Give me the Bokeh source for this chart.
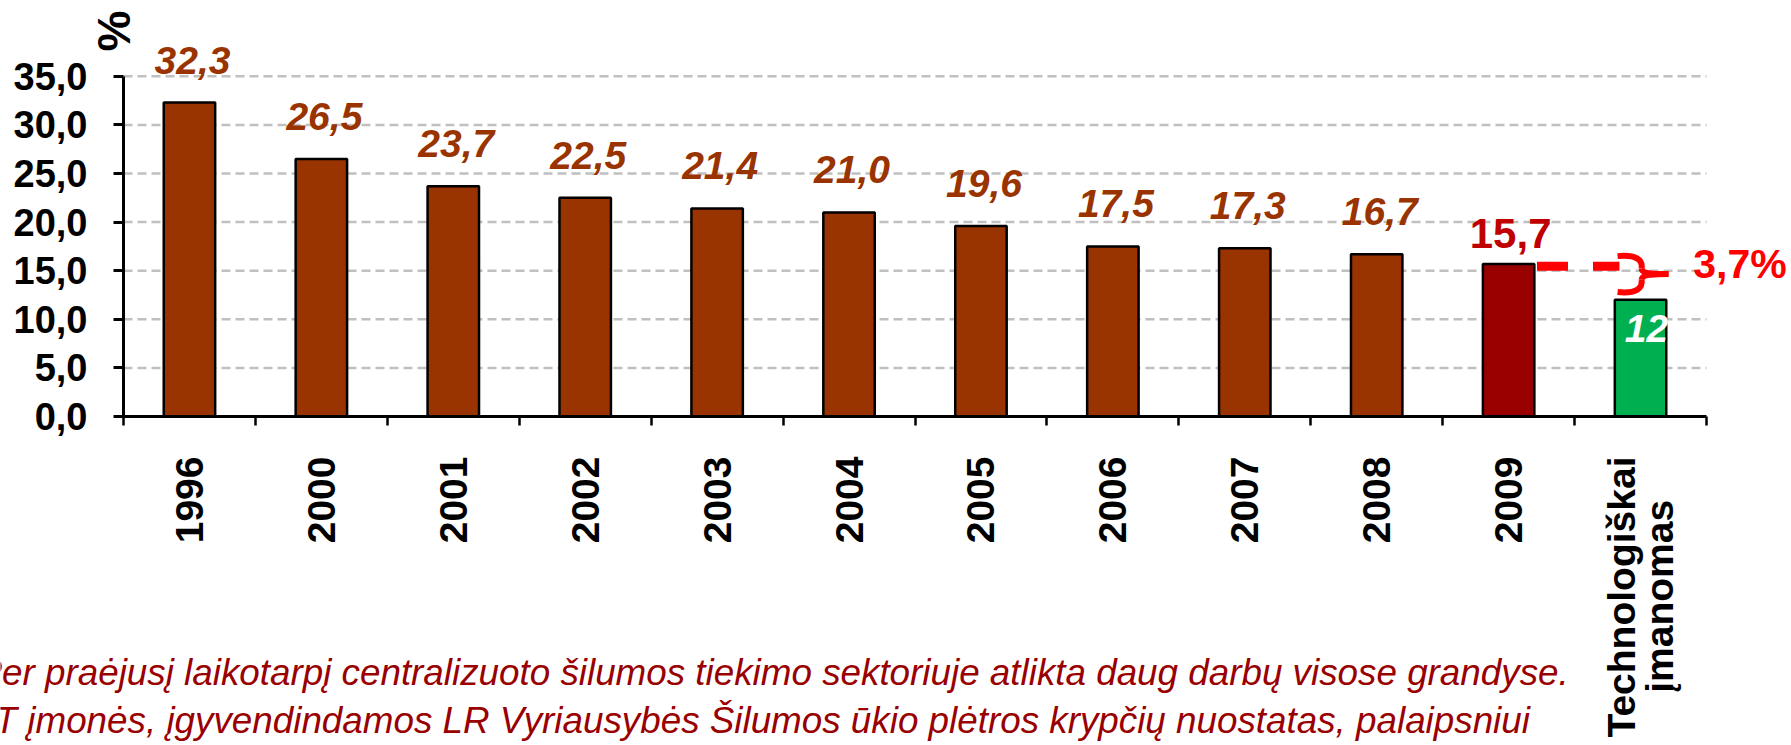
import math
import numpy as np
from bokeh.plotting import figure
from bokeh.models import ColumnDataSource, Range1d, FixedTicker, LabelSet, Label
from bokeh.core.properties import value
from bokeh.embed import file_html
from bokeh.resources import INLINE

# ---------------- data ----------------
categories = ["1996", "2000", "2001", "2002", "2003", "2004", "2005",
              "2006", "2007", "2008", "2009", "Technologiškai\nįmanomas\u00a0\u00a0\u00a0\u00a0"]
values = [32.3, 26.5, 23.7, 22.5, 21.4, 21.0, 19.6, 17.5, 17.3, 16.7, 15.7, 12.0]
value_labels = ["32,3", "26,5", "23,7", "22,5", "21,4", "21,0", "19,6",
                "17,5", "17,3", "16,7", "15,7", "12"]
y_ticks = [0, 5, 10, 15, 20, 25, 30, 35]
y_tick_labels = ["0,0", "5,0", "10,0", "15,0", "20,0", "25,0", "30,0", "35,0"]
y_unit = "%"
note_lines = [
    "Per praėjusį laikotarpį centralizuoto šilumos tiekimo sektoriuje atlikta daug darbų visose grandyse.",
    "CŠT įmonės, įgyvendindamos LR Vyriausybės Šilumos ūkio plėtros krypčių nuostatas, palaipsniui",
]

# ---------------- styles / layout ----------------
BROWN = "#993300"
bar_colors = [BROWN] * 10 + ["#990000", "#00B050"]
SANS = "Liberation Sans"

W, H = 1791, 745
n = len(categories)
centers = np.arange(n) + 0.5
bounds = np.arange(n + 1)
BAR_W = 0.39

# plot area in pixels (left, right, top=35, bottom=0)
PL, PR, PT, PB = 123, 1706, 75.8, 416
ymax = 35
pxu = (PR - PL) / n
pyu = (PB - PT) / ymax
x_range = Range1d(-PL / pxu, n + (W - PR) / pxu)
y_range = Range1d(-(H - PB) / pyu, PB / pyu)

p = figure(width=W, height=H, x_range=x_range, y_range=y_range,
           output_backend="svg", toolbar_location=None, min_border=0)
p.outline_line_color = None
p.grid.visible = False

# grid lines (dashed, behind bars)
gy = [t for t in y_ticks if t > 0]
p.segment(x0=[0] * len(gy), y0=gy, x1=[n] * len(gy), y1=gy,
          line_color="#C0C0C0", line_width=2.5, line_dash="9 5")

# y axis
yax = p.yaxis[0]
yax.fixed_location = 0
yax.bounds = (0, ymax)
yax.ticker = FixedTicker(ticks=y_ticks)
yax.major_label_overrides = {float(t): s for t, s in zip(y_ticks, y_tick_labels)}
yax.major_tick_out = 10
yax.major_tick_in = 0
yax.minor_tick_out = 0
yax.minor_tick_in = 0
yax.axis_line_width = 3
yax.major_tick_line_width = 3
yax.major_label_standoff = 26
yax.major_label_text_font = SANS
yax.major_label_text_font_style = "bold"
yax.major_label_text_font_size = "38px"
yax.major_label_text_color = "black"

# x axis
xax = p.xaxis[0]
xax.fixed_location = 0
xax.bounds = (0, n)
xax.ticker = FixedTicker(ticks=list(centers), minor_ticks=list(bounds))
xax.major_label_overrides = {float(c): s for c, s in zip(centers, categories)}
xax.major_tick_out = 0
xax.major_tick_in = 0
xax.minor_tick_out = 9
xax.minor_tick_in = 0
xax.minor_tick_line_width = 2.5
xax.minor_tick_line_color = "black"
xax.axis_line_width = 3
xax.major_label_orientation = math.pi / 2
xax.major_label_standoff = 31
xax.major_label_text_font = SANS
xax.major_label_text_font_style = "bold"
xax.major_label_text_font_size = "39px"
xax.major_label_text_line_height = 0.9
xax.major_label_text_color = "black"

# bars
src = ColumnDataSource(dict(x=centers, top=values, color=bar_colors))
p.vbar(x="x", top="top", width=BAR_W, bottom=0, fill_color="color",
       line_color="black", line_width=2.5, source=src)

# value labels
hist = ColumnDataSource(dict(x=centers[:10], y=values[:10], lab=value_labels[:10]))
p.add_layout(LabelSet(x="x", y="y", text="lab", source=hist, x_offset=3, y_offset=29,
                      text_align="center", text_baseline="alphabetic",
                      text_font=value(SANS), text_font_style="bold italic",
                      text_font_size="39px", text_color=BROWN))
cur = ColumnDataSource(dict(x=centers[10:11], y=values[10:11], lab=value_labels[10:11]))
p.add_layout(LabelSet(x="x", y="y", text="lab", source=cur, x_offset=2, y_offset=16,
                      text_align="center", text_baseline="alphabetic",
                      text_font=value(SANS), text_font_style="bold",
                      text_font_size="42px", text_color="#C00000"))
tech = ColumnDataSource(dict(x=centers[11:], y=values[11:], lab=value_labels[11:]))
p.add_layout(LabelSet(x="x", y="y", text="lab", source=tech, x_offset=6, y_offset=-42,
                      text_align="center", text_baseline="alphabetic",
                      text_font=value(SANS), text_font_style="bold italic",
                      text_font_size="39px", text_color="white"))

# reduction annotation: dashed line + brace + percentage
v_now, v_tech = values[-2], values[-1]
xs0 = centers[-2] + BAR_W / 2 + 0.02
xs1 = centers[-1] - 0.16
p.segment(x0=[xs0], y0=[v_now - 0.25], x1=[xs1], y1=[v_now - 0.25],
          line_color="#FF0000", line_width=9, line_dash="31 25")

top = v_now + 0.8
bot = v_tech + 0.8
mid = (top + bot) / 2
L = centers[-1] - 0.174
J = centers[-1] + 0.008
T = centers[-1] + 0.212
p.bezier(x0=[L, J, J, J], y0=[top, mid + 0.58, mid - 0.58, mid - 0.58],
         x1=[J, T, T, L], y1=[mid + 0.58, mid, mid, bot],
         cx0=[L + 0.14, J, J, J + 0.01], cy0=[top + 0.2, mid + 0.15, mid - 0.15, bot + 0.4],
         cx1=[J + 0.01, J + 0.05, J + 0.05, L + 0.14], cy1=[top - 0.4, mid, mid, bot - 0.2],
         line_color="#FF0000", line_width=6)

pct = f"{v_now - v_tech:.1f}".replace(".", ",") + "%"
p.add_layout(Label(x=centers[-1] + 0.40, y=v_now, text=pct,
                   text_align="left", text_baseline="middle",
                   text_font=SANS, text_font_style="bold",
                   text_font_size="41px", text_color="#FF0000"))

# unit label (rotated, partially cut at top)
p.add_layout(Label(x=113, y=H - 51, x_units="screen", y_units="screen", text=y_unit,
                   angle=math.pi / 2, text_align="left", text_baseline="alphabetic",
                   text_font=SANS, text_font_style="bold",
                   text_font_size="46px", text_color="black"))

# note text at the bottom (cut on the left, as in the source)
p.add_layout(Label(x=-23, y=73, x_units="screen", y_units="screen", text=note_lines[0],
                   text_align="left", text_baseline="alphabetic",
                   text_font=SANS, text_font_style="italic",
                   text_font_size="36.8px", text_color="#990000"))
p.add_layout(Label(x=-57, y=25, x_units="screen", y_units="screen", text=note_lines[1],
                   text_align="left", text_baseline="alphabetic",
                   text_font=SANS, text_font_style="italic",
                   text_font_size="36.8px", text_color="#990000"))

open("out.html", "w").write(file_html(p, INLINE))
